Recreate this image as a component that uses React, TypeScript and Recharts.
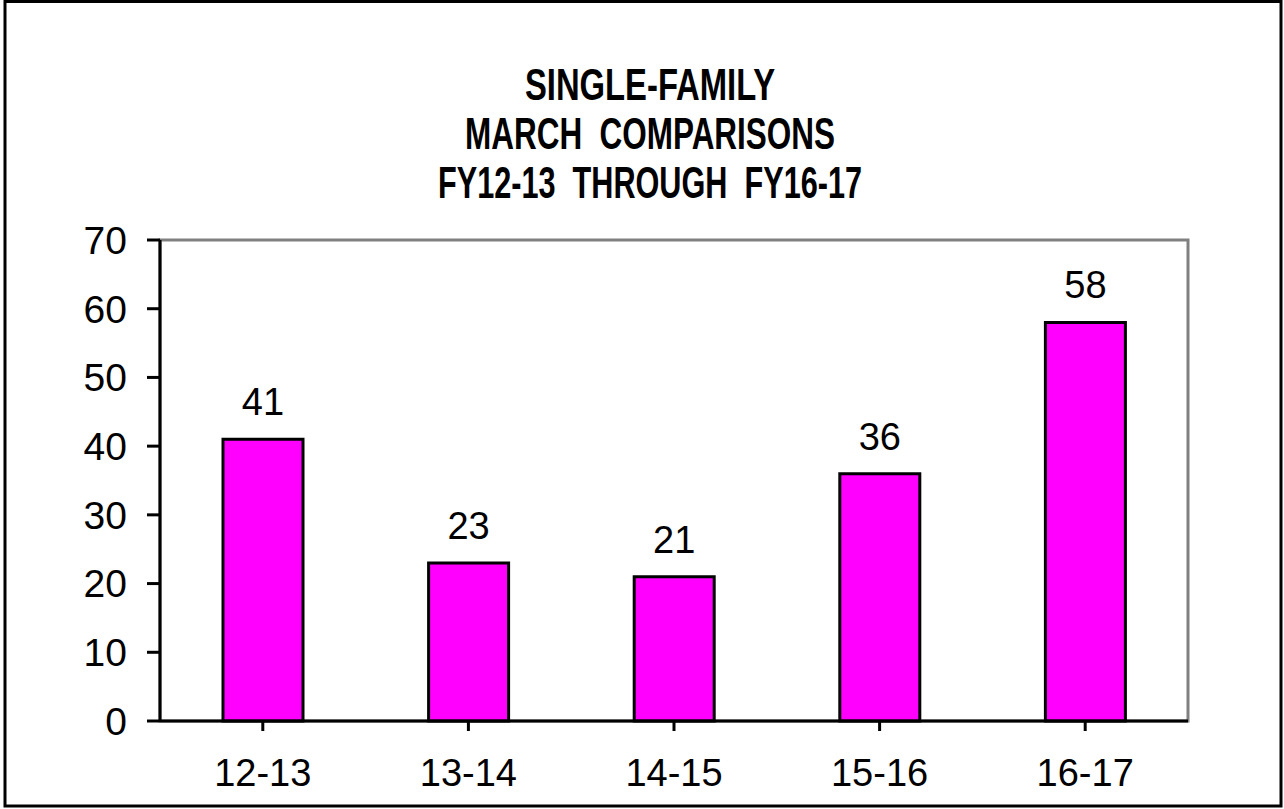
import { BarChart, Bar, XAxis, YAxis, LabelList, ReferenceArea } from "recharts";

const seasons = ["12-13", "13-14", "14-15", "15-16", "16-17"];
const marchSales = [41, 23, 21, 36, 58];
const yTicks = [0, 10, 20, 30, 40, 50, 60, 70];
const titleLines = ["SINGLE-FAMILY", "MARCH  COMPARISONS", "FY12-13  THROUGH  FY16-17"];

const FONT = "'Liberation Sans', Arial, sans-serif";
const titleWidths = [250, 370, 424];

export default function App() {
  const data = seasons.map((s, i) => ({ season: s, value: marchSales[i] }));

  return (
    <div style={{ position: "absolute", left: 0, top: 0, width: 1284, height: 809, background: "#fff", fontFamily: FONT }}>
      <BarChart
        width={1284}
        height={809}
        data={data}
        margin={{ top: 240, right: 96, bottom: 0, left: 0 }}
      >
        <ReferenceArea y1={0} y2={70} fill="none" stroke="#808080" strokeWidth={3} />
        <XAxis
          dataKey="season"
          height={88}
          stroke="#000"
          strokeWidth={3}
          tickSize={10}
          tickMargin={28}
          tick={{ fill: "#000", fontSize: 38, fontFamily: FONT }}
        />
        <YAxis
          width={160}
          domain={[0, 70]}
          ticks={yTicks}
          interval={0}
          stroke="#000"
          strokeWidth={3}
          tickSize={13}
          tickMargin={20}
          tick={{ fill: "#000", fontSize: 39, fontFamily: FONT }}
        />
        <Bar dataKey="value" fill="#ff00ff" stroke="#000" strokeWidth={3} barSize={80} isAnimationActive={false}>
          <LabelList dataKey="value" position="top" offset={24} fill="#000" fontSize={38} fontFamily={FONT} />
        </Bar>
      </BarChart>
      <svg width={1284} height={809} style={{ position: "absolute", left: 0, top: 0, pointerEvents: "none" }}>
        <rect x={5} y={1.5} width={1276} height={804.5} fill="none" stroke="#000" strokeWidth={3} />
        {titleLines.map((line, i) => (
          <text
            key={line}
            x={650}
            y={100 + i * 49}
            textAnchor="middle"
            fontFamily={FONT}
            fontWeight="bold"
            fontSize={45}
            textLength={titleWidths[i]}
            lengthAdjust="spacingAndGlyphs"
            fill="#000"
            style={{ whiteSpace: "pre" }}
          >
            {line}
          </text>
        ))}
      </svg>
    </div>
  );
}
